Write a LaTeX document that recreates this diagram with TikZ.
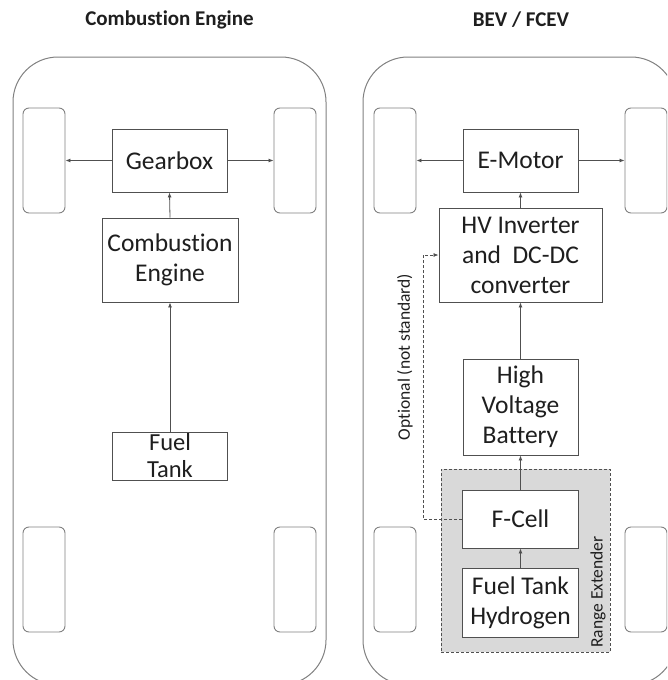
\documentclass[tikz,border=0pt]{standalone}
\usepackage{fontspec}
\setmainfont{Carlito}[Ligatures=NoCommon]
\usetikzlibrary{arrows.meta}
\definecolor{txt}{HTML}{1E1E1E}
\definecolor{boxline}{HTML}{505050}
\definecolor{carline}{HTML}{808080}
\definecolor{rangefill}{HTML}{D9D9D9}
\tikzset{
  box/.style={draw=boxline, line width=0.9pt, fill=white, inner sep=0pt, align=center,
    text=txt, font=\fontsize{25.5}{30}\selectfont},
  wheel/.style={draw=carline, line width=0.9pt, rounded corners=6pt, minimum width=42pt,
    minimum height=105pt, inner sep=0pt},
  car/.style={draw=carline, line width=1pt, rounded corners=45pt},
  conn/.style={draw=boxline, line width=0.8pt, -{Latex[length=5pt,width=4pt]}},
  title/.style={font=\fontsize{21}{25}\selectfont\bfseries, text=txt},
  lbl/.style={font=\fontsize{17.5}{20}\selectfont, text=txt, rotate=90, inner sep=0pt}
}
\begin{document}
\begin{tikzpicture}[x=1pt,y=-1pt]
\useasboundingbox (0,0) rectangle (667,680);
\begin{scope}
\clip (0,0) rectangle (667,680);
% titles
\node[title] (t1) at (169.5,20) {Combustion Engine};
\node[title] (t2) at (521,20) {BEV / FCEV};
% car outlines
\draw[car] (13,57) rectangle (326,685);
\draw[car] (363,57) rectangle (676,685);
% wheels left car
\node[wheel] (lTL) at (44,160.5) {};
\node[wheel] (lTR) at (295,160.5) {};
\node[wheel] (lBL) at (44,579.5) {};
\node[wheel] (lBR) at (295,579.5) {};
% wheels right car
\node[wheel] (rTL) at (395,160.5) {};
\node[wheel] (rTR) at (646,160.5) {};
\node[wheel] (rBL) at (395,579.5) {};
\node[wheel] (rBR) at (646,579.5) {};
% left car boxes
\node[box, minimum width=115pt, minimum height=63pt] (gear) at (169.5,160.5) {Gearbox};
\node[box, minimum width=136pt, minimum height=84pt] (ce) at (170,260) {Combustion\\Engine};
\node[box, minimum width=115pt, minimum height=48pt, font=\fontsize{24.5}{27}\selectfont] (ft) at (170,456) {Fuel\\Tank};
\draw[conn] (ce.north) -- (gear.south);
\draw[conn] (ft.north) -- (ce.south);
\draw[conn] (gear.west) -- (lTL.east);
\draw[conn] (gear.east) -- (lTR.west);
% range extender
\node[draw=boxline, densely dashed, line width=0.6pt, fill=rangefill, minimum width=169pt,
  minimum height=183pt, inner sep=0pt] (range) at (525.5,560.5) {};
\node[lbl] (rlabel) at (598,592) {Range Extender};
% right car boxes
\node[box, minimum width=115pt, minimum height=63pt] (em) at (520.5,160.5) {E-Motor};
\node[box, minimum width=163pt, minimum height=94pt] (hv) at (520.5,255) {HV Inverter\\and\ \ DC-DC\\converter};
\node[box, minimum width=115pt, minimum height=96pt] (bat) at (520.5,407) {High\\Voltage\\Battery};
\node[box, minimum width=116pt, minimum height=58pt] (fc) at (520.5,519) {F-Cell};
\node[box, minimum width=116pt, minimum height=69pt] (fth) at (520.5,602.5) {Fuel Tank\\Hydrogen};
\draw[conn] (hv.north) -- (em.south);
\draw[conn] (bat.north) -- (hv.south);
\draw[conn] (fc.north) -- (bat.south);
\draw[conn] (fth.north) -- (fc.south);
\draw[conn] (em.west) -- (rTL.east);
\draw[conn] (em.east) -- (rTR.west);
% optional dashed connection
\coordinate (dk) at (423,519);
\draw[conn, densely dashed] (fc.west) -- (dk) |- (hv.west);
\node[lbl] (olabel) at (405,357) {Optional (not standard)};
\end{scope}
\end{tikzpicture}
\end{document}
